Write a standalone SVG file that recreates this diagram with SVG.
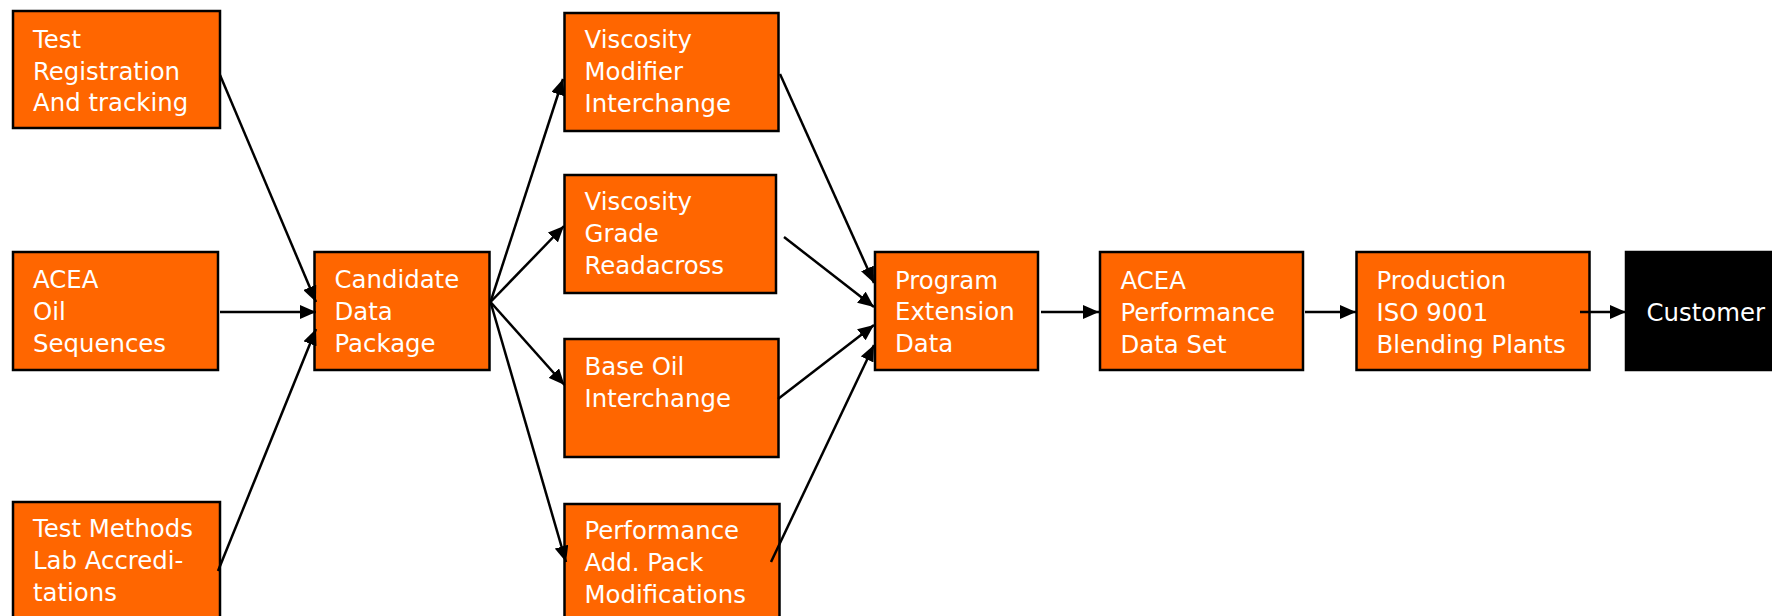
<svg xmlns="http://www.w3.org/2000/svg" width="1772" height="616" viewBox="0 0 1772 616">
<style>
.box{fill:#FF6600;stroke:#000;stroke-width:2.5}
.dark{fill:#000;stroke:#000;stroke-width:2.5}
.t{font-family:"DejaVu Sans",sans-serif;font-size:24.4px;fill:#fff}
.c{stroke:#000;stroke-width:2.5;fill:none;marker-end:url(#ah)}
</style>
<defs>
<marker id="ah" markerWidth="16" markerHeight="14" refX="16" refY="7" orient="auto" markerUnits="userSpaceOnUse"><path d="M0,0 L16,7 L0,14 z" fill="#000"/></marker>
</defs>
<rect width="1772" height="616" fill="#fff"/>
<g id="n1"><rect class="box" x="13" y="11" width="207" height="117"/><text class="t" x="33" y="47.5">Test</text><text class="t" x="33" y="79.5">Registration</text><text class="t" x="33" y="111">And tracking</text></g>
<g id="n2"><rect class="box" x="13" y="252" width="205" height="118"/><text class="t" x="33" y="288">ACEA</text><text class="t" x="33" y="320">Oil</text><text class="t" x="33" y="352">Sequences</text></g>
<g id="n3"><rect class="box" x="13" y="502" width="207" height="130"/><text class="t" x="33" y="537">Test Methods</text><text class="t" x="33" y="569">Lab Accredi-</text><text class="t" x="33" y="601">tations</text></g>
<g id="n4"><rect class="box" x="314.5" y="252" width="175" height="118"/><text class="t" x="334.5" y="288">Candidate</text><text class="t" x="334.5" y="320">Data</text><text class="t" x="334.5" y="352">Package</text></g>
<g id="n5"><rect class="box" x="564.5" y="13" width="214" height="118"/><text class="t" x="584.5" y="48">Viscosity</text><text class="t" x="584.5" y="80">Modifier</text><text class="t" x="584.5" y="112">Interchange</text></g>
<g id="n6"><rect class="box" x="564.5" y="175" width="211.5" height="118"/><text class="t" x="584.5" y="210">Viscosity</text><text class="t" x="584.5" y="242">Grade</text><text class="t" x="584.5" y="274">Readacross</text></g>
<g id="n7"><rect class="box" x="564.5" y="339" width="214" height="118"/><text class="t" x="584.5" y="375">Base Oil</text><text class="t" x="584.5" y="407">Interchange</text></g>
<g id="n8"><rect class="box" x="564.5" y="504" width="215" height="130"/><text class="t" x="584.5" y="539">Performance</text><text class="t" x="584.5" y="571">Add. Pack</text><text class="t" x="584.5" y="603">Modifications</text></g>
<g id="n9"><rect class="box" x="875" y="252" width="163" height="118"/><text class="t" x="895" y="289">Program</text><text class="t" x="895" y="320">Extension</text><text class="t" x="895" y="352">Data</text></g>
<g id="n10"><rect class="box" x="1100" y="252" width="203" height="118"/><text class="t" x="1120.5" y="289">ACEA</text><text class="t" x="1120.5" y="321">Performance</text><text class="t" x="1120.5" y="352.5">Data Set</text></g>
<g id="n11"><rect class="box" x="1356.5" y="252" width="233" height="118"/><text class="t" x="1376.5" y="289">Production</text><text class="t" x="1376.5" y="321">ISO 9001</text><text class="t" x="1376.5" y="352.5">Blending Plants</text></g>
<g id="n12"><rect class="dark" x="1626" y="252" width="160" height="118"/><text class="t" x="1646.5" y="321">Customer</text></g>
<g id="connectors">
<line class="c" x1="220" y1="75" x2="316" y2="302"/>
<line class="c" x1="220" y1="312" x2="316" y2="312"/>
<line class="c" x1="218" y1="571" x2="316" y2="329"/>
<line class="c" x1="490.5" y1="302" x2="563" y2="79"/>
<line class="c" x1="490.5" y1="302" x2="564" y2="226"/>
<line class="c" x1="490.5" y1="302" x2="564.5" y2="385"/>
<line class="c" x1="490.5" y1="302" x2="566" y2="562"/>
<line class="c" x1="780" y1="74" x2="874" y2="283"/>
<line class="c" x1="784" y1="237" x2="874" y2="307"/>
<line class="c" x1="778" y1="399" x2="874" y2="325"/>
<line class="c" x1="771" y1="562" x2="874" y2="345"/>
<line class="c" x1="1041" y1="312" x2="1099" y2="312"/>
<line class="c" x1="1305" y1="312" x2="1356" y2="312"/>
<line class="c" x1="1580" y1="312" x2="1626" y2="312"/>
</g>
</svg>
